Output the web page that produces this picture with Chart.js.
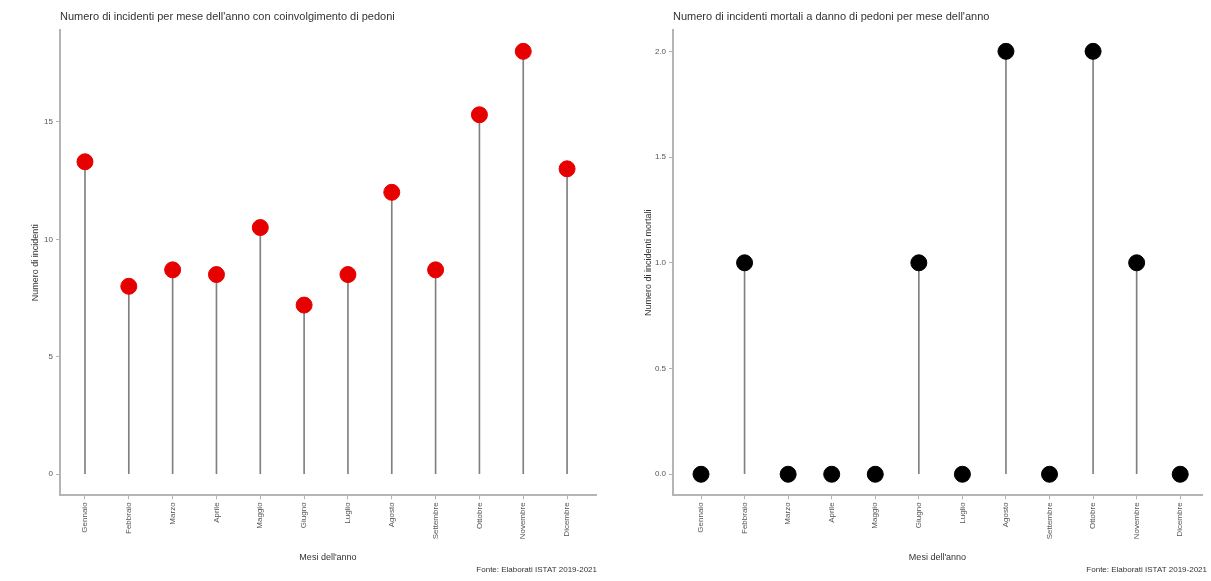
<!DOCTYPE html>
<html>
<head>
<meta charset="utf-8">
<script src="https://cdn.jsdelivr.net/npm/chart.js@4"></script>
<style>
  body { margin: 0; background: #fff; }
  .wrap { display: flex; width: 1211px; height: 581px; }
  canvas { display: block; }
</style>
</head>
<body>
<div class="wrap">
  <canvas id="incidenti" width="605" height="581"></canvas>
  <canvas id="mortali" width="606" height="581"></canvas>
</div>
<script>
const months = ['Gennaio', 'Febbraio', 'Marzo', 'Aprile', 'Maggio', 'Giugno',
    'Luglio', 'Agosto', 'Settembre', 'Ottobre', 'Novembre', 'Dicembre'];
const incidenti = [13.3, 8, 8.7, 8.5, 10.5, 7.2, 8.5, 12, 8.7, 15.3, 18, 13];
const mortali = [0, 1, 0, 0, 0, 1, 0, 2, 0, 2, 1, 0];
const ticksIncidenti = [0, 5, 10, 15];
const ticksMortali = [0, 0.5, 1, 1.5, 2];

const FONT = 'Liberation Sans, Arial, sans-serif';
const AXIS_GREY = '#b4b4b4';

function lollipop(id, cfg) {
    const ctx = document.getElementById(id).getContext('2d');
    return new Chart(ctx, {
        type: 'bar',
        data: {
            datasets: [{
                type: 'scatter',
                data: cfg.values.map((v, i) => ({ x: i, y: v })),
                pointRadius: 8,
                pointHoverRadius: 8,
                pointBackgroundColor: cfg.color,
                pointBorderColor: cfg.color,
                order: 0
            }, {
                type: 'bar',
                data: cfg.values.map((v, i) => ({ x: i, y: v })),
                backgroundColor: '#808080',
                barThickness: 1,
                order: 1
            }]
        },
        options: {
            responsive: false,
            animation: false,
            layout: { padding: { left: 0, right: cfg.padRight, top: 0, bottom: 2 } },
            plugins: {
                legend: { display: false },
                tooltip: { enabled: false },
                title: {
                    display: true,
                    text: cfg.title,
                    align: 'start',
                    fullSize: false,
                    color: '#333',
                    font: { family: FONT, size: 11, weight: 'normal' },
                    padding: { top: 10, bottom: 7 }
                },
                subtitle: {
                    display: true,
                    position: 'bottom',
                    align: 'end',
                    text: 'Fonte: Elaborati ISTAT 2019-2021',
                    color: '#333',
                    font: { family: FONT, size: 8 },
                    padding: { top: 2, bottom: 4 }
                }
            },
            scales: {
                x: {
                    type: 'linear',
                    offset: false,
                    min: cfg.xMin,
                    max: cfg.xMax,
                    afterBuildTicks: s => { s.ticks = months.map((m, i) => ({ value: i })); },
                    afterFit: s => { s.height = 68; },
                    border: { color: AXIS_GREY, width: 2 },
                    grid: { offset: false, drawOnChartArea: false, color: AXIS_GREY, tickLength: 4 },
                    ticks: {
                        autoSkip: false,
                        minRotation: 90,
                        maxRotation: 90,
                        color: '#555',
                        font: { family: FONT, size: 8 },
                        padding: 3,
                        callback: v => months[v]
                    },
                    title: {
                        display: true,
                        text: "Mesi dell'anno",
                        color: '#333',
                        font: { family: FONT, size: 9 },
                        padding: { top: 2, bottom: 0 }
                    }
                },
                y: {
                    min: cfg.yMin,
                    max: cfg.yMax,
                    afterBuildTicks: s => { s.ticks = cfg.yTicks.map(v => ({ value: v })); },
                    afterFit: s => { s.width = cfg.yWidth; },
                    border: { color: AXIS_GREY, width: 2 },
                    grid: { drawOnChartArea: false, color: AXIS_GREY, tickLength: 4 },
                    ticks: {
                        color: '#555',
                        font: { family: FONT, size: 8 },
                        padding: 3,
                        callback: cfg.tickFormat
                    },
                    title: {
                        display: true,
                        text: cfg.yTitle,
                        color: '#333',
                        font: { family: FONT, size: 9 },
                        padding: { top: cfg.yTitlePad, bottom: 8 }
                    }
                }
            }
        }
    });
}

lollipop('incidenti', {
    title: "Numero di incidenti per mese dell'anno con coinvolgimento di pedoni",
    yTitle: 'Numero di incidenti',
    values: incidenti,
    color: '#e60000',
    yTicks: ticksIncidenti,
    yMin: -0.9,
    yMax: 18.9,
    xMin: -0.57,
    xMax: 11.66,
    yWidth: 60,
    yTitlePad: 30,
    padRight: 8,
    tickFormat: v => String(v)
});

lollipop('mortali', {
    title: "Numero di incidenti mortali a danno di pedoni per mese dell'anno",
    yTitle: 'Numero di incidenti mortali',
    values: mortali,
    color: '#000000',
    yTicks: ticksMortali,
    yMin: -0.1,
    yMax: 2.1,
    xMin: -0.643,
    xMax: 11.5,
    yWidth: 68,
    yTitlePad: 38,
    padRight: 4,
    tickFormat: v => v.toFixed(1)
});
</script>
</body>
</html>
